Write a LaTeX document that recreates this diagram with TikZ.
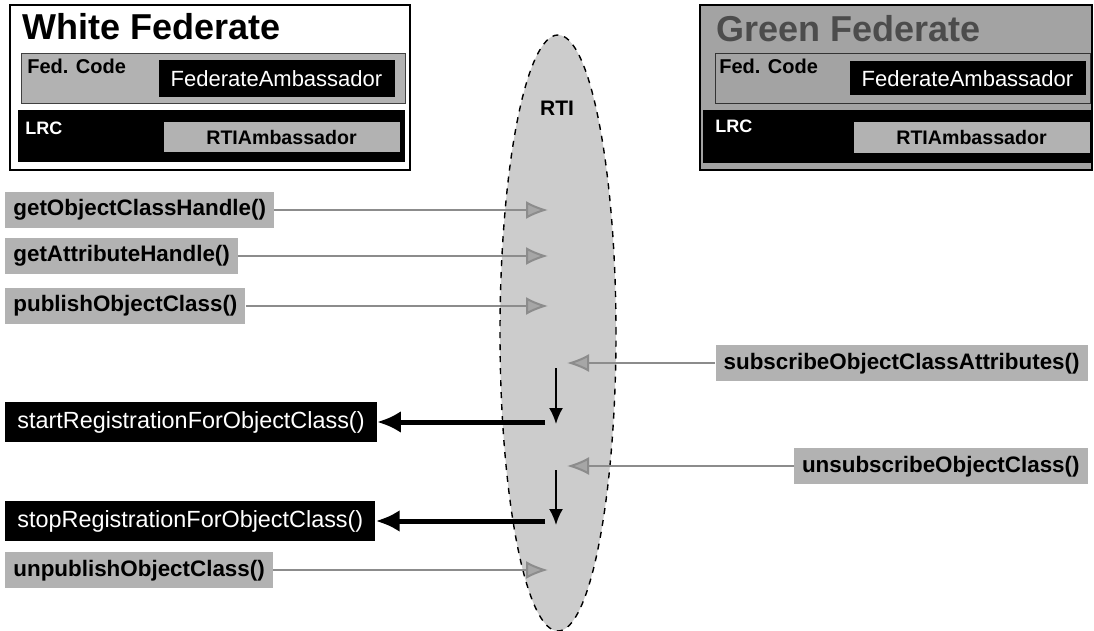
\documentclass[tikz,border=0pt]{standalone}
\usepackage{fontspec}
\setmainfont{Liberation Sans}
\usetikzlibrary{arrows.meta, shapes.geometric}

\definecolor{lblgray}{gray}{0.70}
\definecolor{fedgray}{gray}{0.64}
\definecolor{rtigray}{gray}{0.80}
\definecolor{arrgray}{gray}{0.55}

\begin{document}
\begin{tikzpicture}[x=0.5pt, y=-0.5pt,
    graylbl/.style = {fill=lblgray, text=black, font=\fontsize{11.2}{13}\selectfont\bfseries, inner xsep=4pt, inner ysep=3.4pt, text height=8.5pt, text depth=2.5pt},
    blacklbl/.style = {fill=black, text=white, font=\fontsize{11.7}{14}\selectfont, inner xsep=6pt, inner ysep=4pt, text height=9pt, text depth=3pt},
    ambbox/.style = {minimum width=118pt, inner sep=0pt},
    callarrow/.style = {draw=arrgray, line width=1pt, -{Latex[length=11pt, width=9pt, fill=gray!70]}},
    backarrow/.style = {line width=2.5pt, -{Latex[length=12pt, width=11pt]}},
    downarrow/.style = {line width=1pt, -{Latex[length=8pt, width=7pt]}}
]
    \useasboundingbox (0, 0) rectangle (1094, 631);

    % white federate
    \draw[fill=white, line width=0.8pt] (10, 5) rectangle (410, 170);
    \node[anchor=base west, inner sep=0pt, font=\fontsize{18}{20}\selectfont\bfseries] (whitettl) at (22, 40) {White Federate};
    \draw[fill=lblgray, draw=gray!50!black] (21, 53) rectangle (405, 103);
    \node[anchor=base west, inner sep=0pt, font=\fontsize{10}{12}\selectfont\bfseries] (whitefc) at (27, 74) {Fed. Code};
    \node[ambbox, fill=black, text=white, minimum height=18.5pt, font=\fontsize{11}{13}\selectfont] (whitefa) at (276.5, 78.5) {FederateAmbassador};
    \fill (18, 110) rectangle (405, 162);
    \node[anchor=base west, inner sep=0pt, text=white, font=\fontsize{9}{11}\selectfont\bfseries] (whitelrc) at (25, 135) {LRC};
    \node[ambbox, fill=lblgray, minimum height=15pt, font=\fontsize{9.8}{12}\selectfont\bfseries] (whitera) at (281.5, 137) {RTIAmbassador};

    % green federate
    \draw[fill=fedgray, line width=0.8pt] (700, 5) rectangle (1092, 170);
    \node[anchor=base west, inner sep=0pt, text=black!70, font=\fontsize{18}{20}\selectfont\bfseries] (greenttl) at (716, 42) {Green Federate};
    \draw[fill=fedgray, draw=gray!40!black] (715, 53) rectangle (1090, 103);
    \node[anchor=base west, inner sep=0pt, font=\fontsize{10}{12}\selectfont\bfseries] (greenfc) at (719, 74) {Fed. Code};
    \node[ambbox, fill=black, text=white, minimum height=17pt, font=\fontsize{11}{13}\selectfont] (greenfa) at (967.5, 78.5) {FederateAmbassador};
    \fill (703, 110) rectangle (1092, 163);
    \node[anchor=base west, inner sep=0pt, text=white, font=\fontsize{9}{11}\selectfont\bfseries] (greenlrc) at (715, 133) {LRC};
    \node[ambbox, fill=lblgray, minimum height=15.5pt, font=\fontsize{9.8}{12}\selectfont\bfseries] (greenra) at (971.5, 137.5) {RTIAmbassador};

    % the RTI
    \node[ellipse, draw, dashed, line width=0.7pt, fill=rtigray, minimum width=58pt, minimum height=298pt, inner sep=0pt] (rti) at (558, 333) {};
    \node[font=\fontsize{10.5}{12}\selectfont\bfseries] (rtilbl) at (557, 108) {RTI};

    \coordinate (inL) at (548, 0);
    \coordinate (inR) at (567, 0);
    \coordinate (outL) at (545, 0);

    % calls from the white federate
    \node[graylbl, anchor=west] (getoch) at (5, 210) {getObjectClassHandle()};
    \node[graylbl, anchor=west] (getah) at (5, 256) {getAttributeHandle()};
    \node[graylbl, anchor=west] (puboc) at (5, 306) {publishObjectClass()};
    \node[blacklbl, anchor=west] (startreg) at (5, 422) {startRegistrationForObjectClass()};
    \node[blacklbl, anchor=west] (stopreg) at (5, 521) {stopRegistrationForObjectClass()};
    \node[graylbl, anchor=west] (unpuboc) at (5, 570) {unpublishObjectClass()};

    % calls from the green federate
    \node[graylbl, anchor=east] (suboca) at (1088, 363) {subscribeObjectClassAttributes()};
    \node[graylbl, anchor=east] (unsuboc) at (1088, 466) {unsubscribeObjectClass()};

    \draw[callarrow] (getoch) -- (getoch -| inL);
    \draw[callarrow] (getah) -- (getah -| inL);
    \draw[callarrow] (puboc) -- (puboc -| inL);
    \draw[callarrow] (unpuboc) -- (unpuboc -| inL);
    \draw[callarrow] (suboca) -- (suboca -| inR);
    \draw[callarrow] (unsuboc) -- (unsuboc -| inR);

    \draw[backarrow] (startreg -| outL) -- (startreg);
    \draw[backarrow] (stopreg -| outL) -- (stopreg);

    \coordinate (down1a) at (556, 368);
    \coordinate (down1b) at (556, 424);
    \coordinate (down2a) at (556, 470);
    \coordinate (down2b) at (556, 525);
    \draw[downarrow] (down1a) -- (down1b);
    \draw[downarrow] (down2a) -- (down2b);
\end{tikzpicture}
\end{document}
